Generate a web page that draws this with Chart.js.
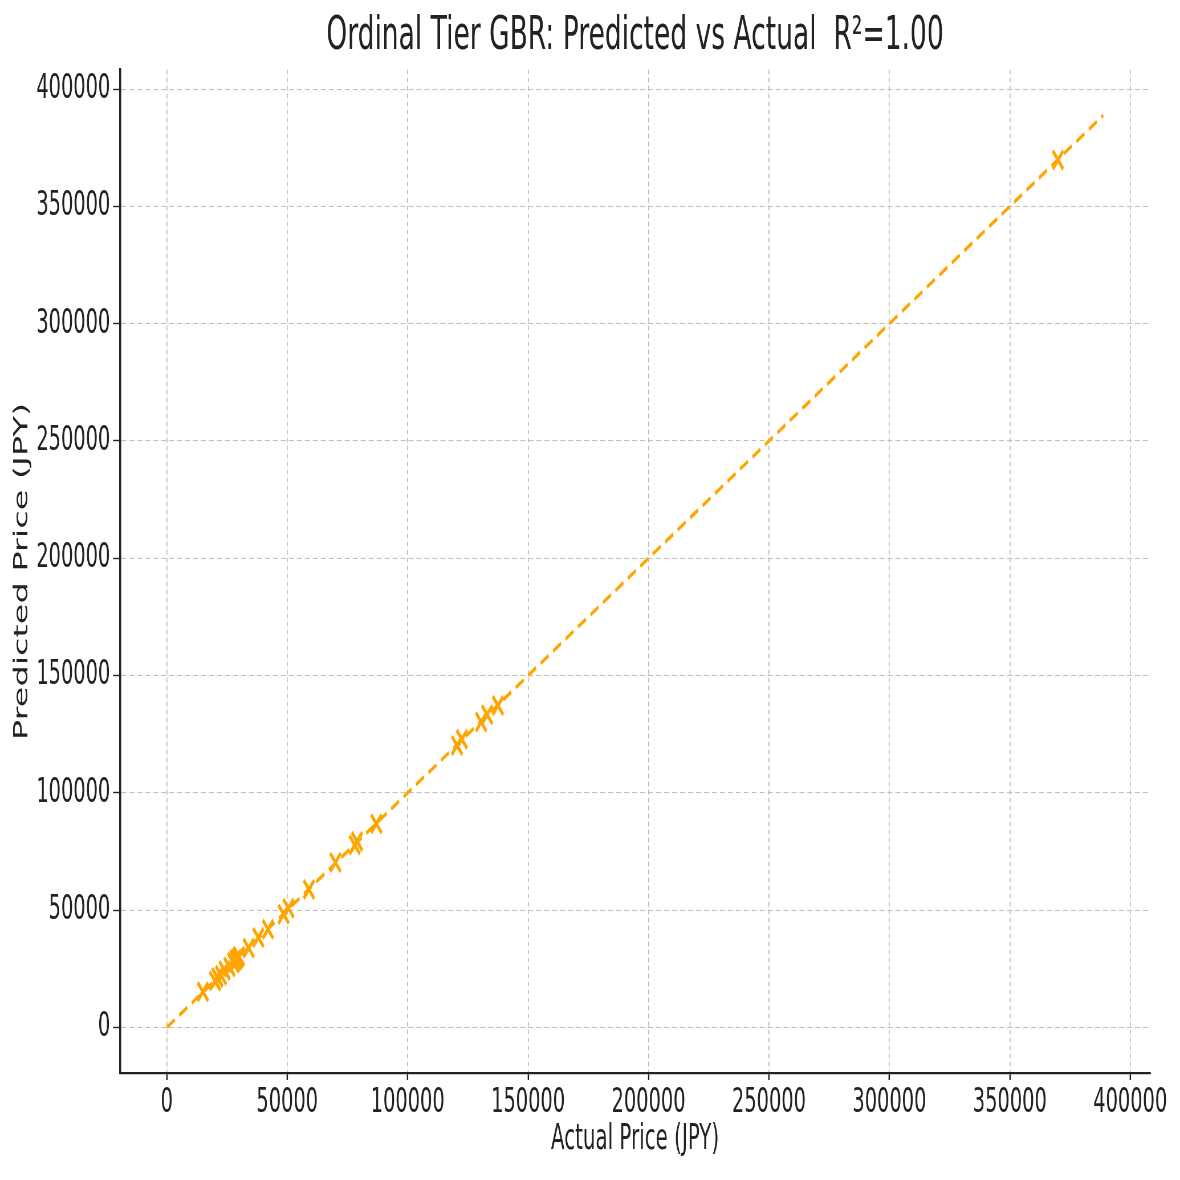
<!DOCTYPE html>
<html>
<head>
<meta charset="utf-8">
<title>Ordinal Tier GBR: Predicted vs Actual</title>
<script src="https://cdn.jsdelivr.net/npm/chart.js@4"></script>
<style>
  html, body { margin: 0; padding: 0; background: #fff; }
  #wrap { width: 1180px; height: 1180px; overflow: hidden; }
  /* the reference is squeezed horizontally, so draw wide and scale down */
  #chart { transform: scaleX(0.57005); transform-origin: 0 0; }
</style>
</head>
<body>
<div id="wrap"><canvas id="chart" width="2070" height="1180"></canvas></div>
<script>
const actualPrice = [15000, 20000, 21000, 22500, 24000, 26000, 27500, 28000, 28500, 29000, 29500, 30000,
  34000, 38000, 42000, 48500, 50500, 59000, 70000, 78000, 79000, 87000,
  120500, 122500, 130500, 133000, 137500, 370000];
const predictedPrice = [15200, 19800, 21300, 22200, 24300, 25800, 27800, 27600, 29000, 28700, 29800, 30200,
  33800, 38300, 41800, 48200, 50800, 58800, 70300, 77800, 79300, 86800,
  120200, 122800, 130200, 133300, 137200, 369800];
const diagLine = [0, 388800];
const xTicks = [0, 50000, 100000, 150000, 200000, 250000, 300000, 350000, 400000];
const yTicks = [0, 50000, 100000, 150000, 200000, 250000, 300000, 350000, 400000];

const orange = "#ffa500";
const ink = "#222222";
const gridCol = "rgba(175,175,175,0.8)";

const points = actualPrice.map((a, i) => ({ x: a, y: predictedPrice[i] }));
const diag = diagLine.map(v => ({ x: v, y: v }));

const chart1 = document.getElementById("chart");
new Chart(chart1, {
    type: "scatter",
    data: {
        datasets: [{
            label: "diag",
            data: diag,
            showLine: true,
            borderColor: orange,
            borderWidth: 3.8,
            borderDash: [16, 9],
            pointRadius: 0,
            fill: false
        }, {
            label: "points",
            data: points,
            pointStyle: "crossRot",
            pointRadius: 13,
            pointBorderWidth: 4.4,
            pointBorderColor: orange,
            pointBackgroundColor: orange
        }]
    },
    options: {
        responsive: false,
        animation: false,
        layout: { padding: { left: 0, right: 52.5, top: 0, bottom: 0 } },
        plugins: {
            legend: { display: false },
            tooltip: { enabled: false },
            title: {
                display: true,
                fullSize: false,
                text: "Ordinal Tier GBR: Predicted vs Actual  R\u00b2=1.00",
                color: ink,
                font: { family: "DejaVu Sans", size: 46.5, weight: "normal" },
                padding: { top: 9, bottom: 5 }
            }
        },
        scales: {
            x: {
                type: "linear",
                min: -19440,
                max: 408240,
                afterBuildTicks: s => { s.ticks = xTicks.map(v => ({ value: v })); },
                afterFit: s => { s.height = 107; s.paddingLeft = 0; s.paddingRight = 0; },
                ticks: {
                    includeBounds: false,
                    color: ink,
                    font: { family: "DejaVu Sans", size: 34 },
                    padding: 3,
                    maxRotation: 0,
                    autoSkip: false,
                    callback: v => String(v)
                },
                grid: {
                    color: gridCol,
                    lineWidth: 1.75,
                    tickColor: ink,
                    tickLength: 7,
                    tickWidth: 2.4,
                    tickBorderDash: []
                },
                border: { display: true, color: ink, width: 2.2, dash: [5, 3] },
                title: {
                    display: true,
                    text: "Actual Price (JPY)",
                    color: ink,
                    font: { family: "DejaVu Sans", size: 34.8 },
                    padding: { top: 0, bottom: 19 }
                }
            },
            y: {
                type: "linear",
                min: -19440,
                max: 408240,
                afterBuildTicks: s => { s.ticks = yTicks.map(v => ({ value: v })); },
                afterFit: s => { s.width = 210.5; s.paddingTop = 0; s.paddingBottom = 0; },
                ticks: {
                    includeBounds: false,
                    color: ink,
                    font: { family: "DejaVu Sans", size: 34 },
                    padding: 5,
                    autoSkip: false,
                    callback: v => String(v)
                },
                grid: {
                    color: gridCol,
                    lineWidth: 1,
                    tickColor: ink,
                    tickLength: 12,
                    tickWidth: 1.4,
                    tickBorderDash: []
                },
                border: { display: true, color: ink, width: 3.6, dash: [9, 5] },
                title: {
                    display: true,
                    text: "Predicted Price (JPY)",
                    color: ink,
                    font: { family: "DejaVu Sans", size: 33.6 },
                    padding: { top: 19, bottom: 0 }
                }
            }
        }
    }
});
</script>
</body>
</html>
